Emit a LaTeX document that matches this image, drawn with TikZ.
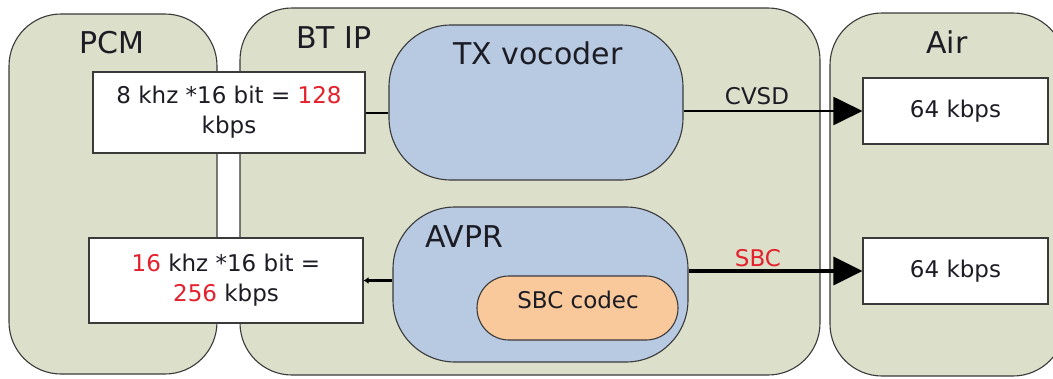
\documentclass[tikz,border=0pt]{standalone}
\usepackage{fontspec}
\setmainfont{DejaVu Sans}
\usetikzlibrary{arrows.meta}
\definecolor{contfill}{HTML}{DCDFCA}
\definecolor{bluefill}{HTML}{B8C9E2}
\definecolor{orangefill}{HTML}{F9C99C}
\definecolor{redtxt}{HTML}{E3202C}
\definecolor{edgecol}{HTML}{3A3A3A}
\definecolor{txtcol}{HTML}{1C1C24}
\begin{document}
\begin{tikzpicture}[x=1pt,y=-1pt,
  container/.style={draw=edgecol, line width=1.1pt, fill=contfill, rounded corners=52pt, inner sep=0pt},
  procbox/.style={draw=edgecol, line width=1.1pt, fill=bluefill, rounded corners=62pt, inner sep=0pt},
  codecbox/.style={draw=edgecol, line width=1.1pt, fill=orangefill, rounded corners=32pt, inner sep=0pt},
  ratebox/.style={draw=edgecol, line width=1.1pt, fill=white, inner sep=0pt, align=center, text=txtcol, font=\fontsize{23}{30}\selectfont},
  title/.style={text=txtcol, font=\fontsize{30}{34}\selectfont, inner sep=0pt},
  lbl/.style={text=txtcol, font=\fontsize{23}{28}\selectfont, inner sep=0pt},
  thinconn/.style={draw=black, line width=2pt},
  thickconn/.style={draw=black, line width=3.4pt},
  bigtip/.style={-{Triangle[length=29pt,width=28pt]}}
]
\useasboundingbox (0,0) rectangle (1053,378);
\clip (0,0) rectangle (1053,378);
\fill[white] (0,0) rectangle (1053,378);

% containers
\node[container, minimum width=208pt, minimum height=360pt] (pcm) at (113,194) {};
\node[container, minimum width=580pt, minimum height=367pt] (btip) at (530,191.5) {};
\node[container, minimum width=235pt, minimum height=363pt] (air) at (947.5,194.5) {};

\node[title, anchor=base] (pcmtitle) at (112,53) {PCM};
\node[title, anchor=base] (bttitle) at (334,48) {BT IP};
\node[title, anchor=base] (airtitle) at (947,53) {Air};

% processing blocks
\node[procbox, minimum width=294pt, minimum height=155pt] (tx) at (536,102.5) {};
\node[title, anchor=base] (txtitle) at (538,64) {TX vocoder};
\node[procbox, minimum width=295pt, minimum height=155pt] (avpr) at (540.5,284.5) {};
\node[title, anchor=base west] (avprtitle) at (425,247) {AVPR};
\node[codecbox, minimum width=201pt, minimum height=64pt] (sbc) at (577.5,308) {};
\node[lbl, anchor=base] (sbctext) at (578,308) {SBC codec};

% rate boxes
\node[ratebox, minimum width=272pt, minimum height=81pt] (pcm1) at (229,112.5)
  {8 khz *16 bit = \textcolor{redtxt}{128}\\kbps};
\node[ratebox, minimum width=274pt, minimum height=85pt] (pcm2) at (226,280.5)
  {\textcolor{redtxt}{16} khz *16 bit =\\\textcolor{redtxt}{256} kbps};
\node[ratebox, minimum width=185pt, minimum height=66pt] (air1) at (955.5,111) {64 kbps};
\node[ratebox, minimum width=185pt, minimum height=66pt] (air2) at (955.5,271) {64 kbps};

% connectors
\draw[thinconn] (pcm1.east) -- (pcm1.east -| tx.west);
\draw[thinconn, bigtip] (air1.west -| tx.east) -- (air1.west);
\draw[thickconn] (pcm2.east -| avpr.west) -- ([xshift=4pt]pcm2.east);
\draw[draw=black, line width=1pt, -{Latex[length=5pt,width=7pt]}] ([xshift=6pt]pcm2.east) -- (pcm2.east);
\draw[thickconn, bigtip] (air2.west -| avpr.east) -- (air2.west);

\node[lbl, anchor=base] (cvsd) at (757,104) {CVSD};
\node[lbl, anchor=base, text=redtxt] (sbclbl) at (758,266) {SBC};
\end{tikzpicture}
\end{document}
